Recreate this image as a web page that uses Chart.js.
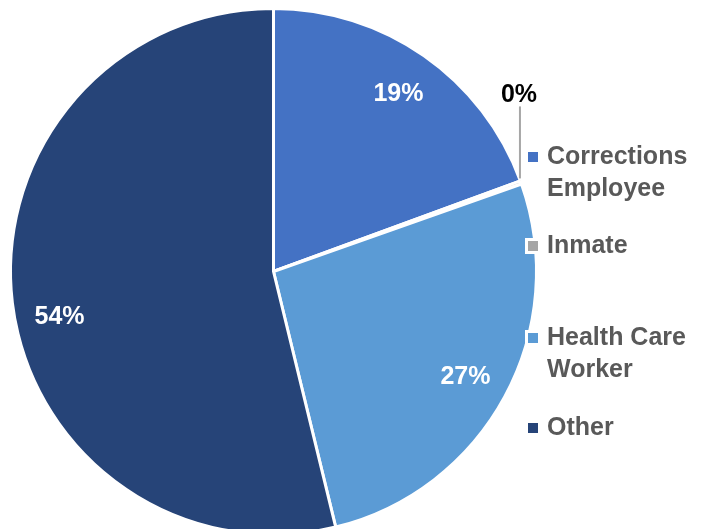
<!DOCTYPE html>
<html>
<head>
<meta charset="utf-8">
<script src="https://cdn.jsdelivr.net/npm/chart.js@4"></script>
<style>
  html, body { margin: 0; padding: 0; background: #fff; overflow: hidden; }
  #wrap { position: absolute; left: 0; top: 0; width: 713px; height: 545px; }
</style>
</head>
<body>
<div id="wrap"><canvas id="chart"></canvas></div>
<script>
// data
const categories = ['Corrections Employee', 'Inmate', 'Health Care Worker', 'Other'];
const legendLines = [['Corrections', 'Employee'], ['Inmate'], ['Health Care', 'Worker'], ['Other']];
const values = [19.4, 0.2, 26.6, 53.8];
const valueLabels = ['19%', '0%', '27%', '54%'];
const colors = ['#4472C4', '#A5A5A5', '#5B9BD5', '#264478'];

const labelFont = 'bold 25px "Liberation Sans", Arial, sans-serif';
const legendFont = 'bold 25px "Liberation Sans", Arial, sans-serif';

// percent labels inside slices, 0% one goes outside with a leader line
const sliceLabels = {
  id: 'sliceLabels',
  afterDatasetsDraw(chart) {
    const ctx = chart.ctx;
    const arcs = chart.getDatasetMeta(0).data;
    ctx.save();
    ctx.font = labelFont;
    ctx.textAlign = 'center';
    ctx.textBaseline = 'middle';
    arcs.forEach((arc, i) => {
      let mid = (arc.startAngle + arc.endAngle) / 2;
      if (values[i] < 2) {
        const ex = arc.x + Math.cos(mid) * arc.outerRadius;
        const ey = arc.y + Math.sin(mid) * arc.outerRadius;
        ctx.strokeStyle = '#A6A6A6';
        ctx.lineWidth = 2;
        ctx.beginPath();
        ctx.moveTo(ex - 1, ey - 4);
        ctx.lineTo(ex - 1, ey - 76);
        ctx.stroke();
        ctx.fillStyle = '#000';
        ctx.fillText(valueLabels[i], ex - 2, ey - 87);
      } else {
        // big slice label sits a bit below its middle, like Excel's best fit
        if (values[i] > 50) mid -= 0.08;
        const r = arc.outerRadius * 0.83;
        ctx.fillStyle = '#fff';
        ctx.fillText(valueLabels[i], arc.x + Math.cos(mid) * r, arc.y + Math.sin(mid) * r + 2);
      }
    });
    ctx.restore();
  }
};

// legend on the right, wrapped like the original
const sideLegend = {
  id: 'sideLegend',
  afterDraw(chart) {
    const ctx = chart.ctx;
    const rowsY = [157, 246, 338, 428];
    ctx.save();
    ctx.font = legendFont;
    ctx.textBaseline = 'middle';
    ctx.textAlign = 'left';
    legendLines.forEach((lines, i) => {
      const y = rowsY[i];
      ctx.fillStyle = '#fff';
      ctx.fillRect(525, y - 8, 16, 16);
      ctx.fillStyle = colors[i];
      ctx.fillRect(528, y - 5, 10, 10);
      ctx.fillStyle = '#595959';
      lines.forEach((t, j) => ctx.fillText(t, 547, y + j * 32));
    });
    ctx.restore();
  }
};

new Chart(document.getElementById('chart'), {
  type: 'pie',
  data: {
    labels: categories,
    datasets: [{
      data: values,
      backgroundColor: colors,
      borderColor: '#fff',
      borderWidth: 3
    }]
  },
  options: {
    responsive: true,
    maintainAspectRatio: false,
    animation: false,
    layout: { padding: { left: 9, right: 175, top: 7, bottom: 9 } },
    plugins: {
      legend: { display: false },
      tooltip: { enabled: false }
    }
  },
  plugins: [sliceLabels, sideLegend]
});
</script>
</body>
</html>
